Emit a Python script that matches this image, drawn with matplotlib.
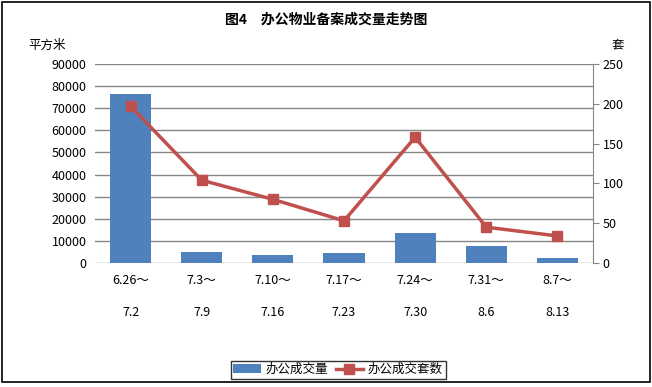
import matplotlib
matplotlib.use('Agg')
import matplotlib.pyplot as plt
import numpy as np
from matplotlib.patches import Rectangle

plt.rcParams['font.family'] = ['Noto Sans CJK SC', 'DejaVu Sans']

periods = ['6.26～\n\n7.2', '7.3～\n\n7.9', '7.10～\n\n7.16', '7.17～\n\n7.23',
           '7.24～\n\n7.30', '7.31～\n\n8.6', '8.7～\n\n8.13']
area = [76500, 5100, 3600, 4400, 13700, 7800, 2400]
units = [197, 104, 80, 53, 158, 45, 34]

bar_color = '#4F81BD'
line_color = '#C0504D'
grid_color = '#868686'

fig = plt.figure(figsize=(6.52, 3.87), dpi=100)
ax = fig.add_axes([95 / 652, 1 - 263 / 387, 498 / 652, 199 / 387])
ax2 = ax.twinx()

x = np.arange(len(periods))
ax.bar(x, area, width=0.58, color=bar_color, zorder=2, label='办公成交量')
ax.set_xlim(-0.5, len(periods) - 0.5)
ax.set_ylim(0, 90000)
ax.set_yticks(np.arange(0, 90001, 10000))
ax.yaxis.grid(True, color=grid_color, linewidth=1, zorder=0)
ax.set_axisbelow(True)
ax.set_xticks(x)
ax.set_xticklabels(periods, fontsize=9, linespacing=1.3)
ax.tick_params(axis='x', length=0, pad=8)
ax.tick_params(axis='y', length=0, labelsize=9, pad=6)

ax2.plot(x, units, color=line_color, linewidth=2.5, marker='s', markersize=7.5,
         zorder=3, label='办公成交套数')
ax2.set_ylim(0, 250)
ax2.set_yticks(np.arange(0, 251, 50))
ax2.tick_params(axis='y', length=4, color=grid_color, labelsize=9, pad=3)

for a in (ax, ax2):
    for s in ('top', 'left', 'bottom', 'right'):
        a.spines[s].set_visible(False)
ax2.spines['right'].set_visible(True)
ax2.spines['right'].set_color(grid_color)

fig.text(326 / 652, 1 - 20 / 387, '图4　办公物业备案成交量走势图', ha='center', va='center',
         fontsize=10, fontweight='bold')
fig.text(28 / 652, 1 - 45 / 387, '平方米', ha='left', va='center', fontsize=9)
fig.text(612 / 652, 1 - 45 / 387, '套', ha='left', va='center', fontsize=9)

h1, l1 = ax.get_legend_handles_labels()
h2, l2 = ax2.get_legend_handles_labels()
leg = fig.legend(h1 + h2, l1 + l2, loc='center', bbox_to_anchor=(338 / 652, 1 - 369.5 / 387),
                 ncol=2, fontsize=9, frameon=True, fancybox=False, edgecolor='black',
                 handlelength=2.2, columnspacing=0.6, handletextpad=0.4,
                 borderpad=0.2)
leg.get_frame().set_linewidth(1)

fig.patches.append(Rectangle((2 / 652, 1 - 382 / 387), 648 / 652, 380 / 387,
                             transform=fig.transFigure, fill=False,
                             edgecolor='black', linewidth=1.2))

fig.savefig('out.png', dpi=100)
